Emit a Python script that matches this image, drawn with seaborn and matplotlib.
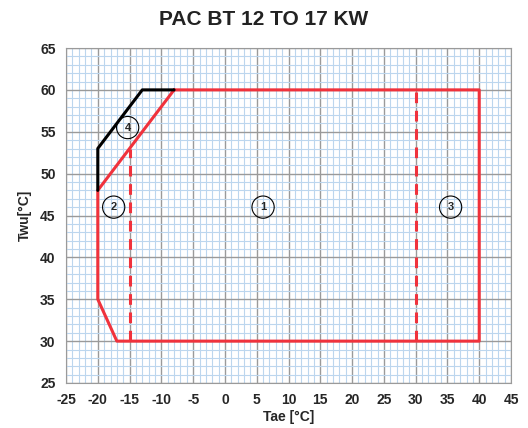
import numpy as np
import pandas as pd
import matplotlib
matplotlib.use('Agg')
import matplotlib.pyplot as plt
import seaborn as sns

# Dados do envelope de funcionamento
red_x = [-8, 40, 40, -17, -20, -20, -8]
red_y = [60, 60, 30, 30, 35, 48, 60]
black_x = [-20, -20, -13, -8]
black_y = [48, 53, 60, 60]
dash1_x = [-15, -15]
dash1_y = [30, 53]
dash2_x = [30, 30]
dash2_y = [30, 60]
zone_labels = ['1', '2', '3', '4']
zone_x = [6, -17.5, 35.5, -15.3]
zone_y = [46, 46, 46, 55.5]

sns.set_style('white')
plt.rcParams['font.family'] = ['Liberation Sans', 'DejaVu Sans']
plt.rcParams['axes.unicode_minus'] = False

fig = plt.figure(figsize=(5.28, 4.28), dpi=100)
ax = fig.add_axes([66/528, 1 - 383/428, (511-66)/528, (383-48)/428])

ax.set_xlim(-25, 45)
ax.set_ylim(25, 65)
ax.set_xticks(np.arange(-25, 46, 5))
ax.set_yticks(np.arange(25, 66, 5))
ax.set_xticks(np.arange(-25, 46, 1), minor=True)
ax.set_yticks(np.arange(25, 66, 1), minor=True)
ax.grid(which='minor', color='#bcd6ee', linewidth=0.8)
ax.grid(which='major', color='#9a9a9a', linewidth=1.0)
ax.set_axisbelow(True)
ax.tick_params(which='minor', length=0)
ax.tick_params(which='major', length=4, color='#9a9a9a', labelsize=10)
for s in ax.spines.values():
    s.set_color('#9a9a9a')
for lab in ax.get_xticklabels() + ax.get_yticklabels():
    lab.set_fontweight('bold')

df_red = pd.DataFrame({'x': red_x, 'y': red_y})
df_black = pd.DataFrame({'x': black_x, 'y': black_y})
sns.lineplot(data=df_red, x='x', y='y', sort=False, estimator=None, color='#f0323c', linewidth=2.2, ax=ax)
sns.lineplot(data=df_black, x='x', y='y', sort=False, estimator=None, color='black', linewidth=2.2, ax=ax)
ax.plot(dash1_x, dash1_y, color='#f0323c', linewidth=2.2, linestyle=(0, (3.5, 2.5)))
ax.plot(dash2_x, dash2_y, color='#f0323c', linewidth=2.2, linestyle=(0, (3.5, 2.5)))

for t, x, y in zip(zone_labels, zone_x, zone_y):
    ax.text(x, y, t, ha='center', va='center', fontsize=8, fontweight='bold',
            bbox=dict(boxstyle='circle,pad=0.55', fc='none', ec='black', lw=0.8))

ax.set_xlabel('Tae [°C]', fontweight='bold', fontsize=10, labelpad=2)
ax.set_ylabel('Twu[°C]', fontweight='bold', fontsize=10, labelpad=6)
fig.text(0.5, 0.955, 'PAC BT 12 TO 17 KW', ha='center', va='center', fontsize=15, fontweight='bold', color='#222222')

fig.savefig('out.png', dpi=100)
